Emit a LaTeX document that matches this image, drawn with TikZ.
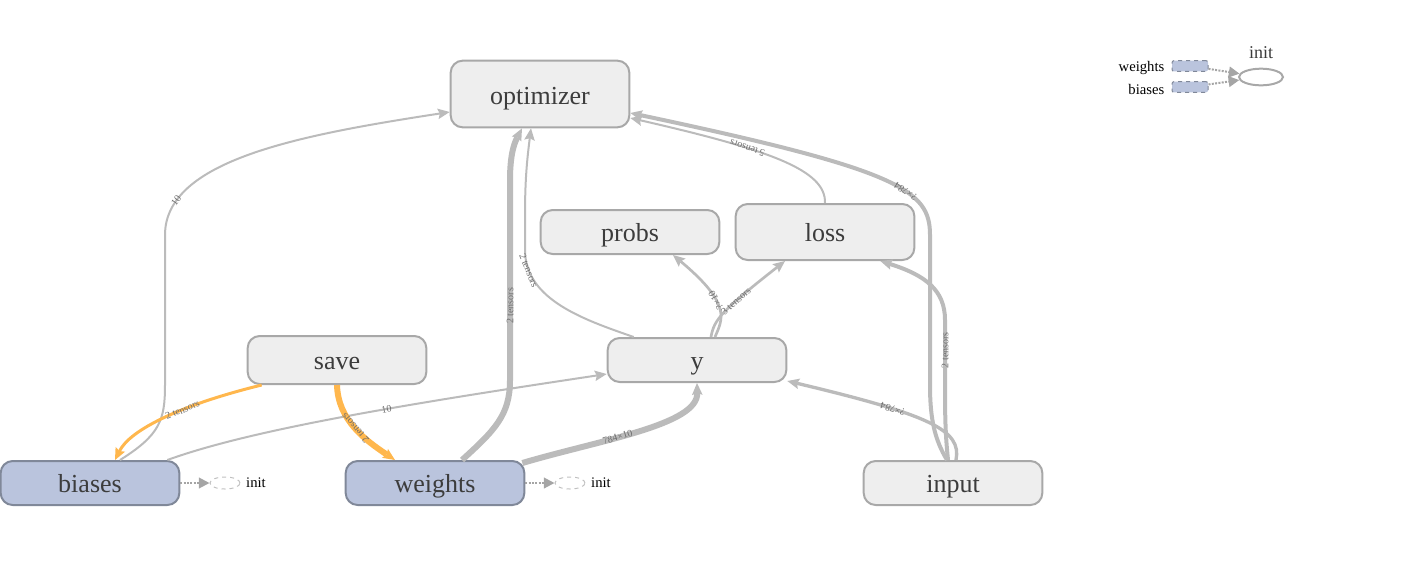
\documentclass[tikz,border=0pt]{standalone}
\usepackage{fontspec}
\setmainfont{Liberation Serif}
\usetikzlibrary{calc,arrows.meta,shapes.geometric}
\definecolor{OpFill}{RGB}{238,238,238}
\definecolor{OpLine}{RGB}{168,168,168}
\definecolor{VarFill}{RGB}{186,196,221}
\definecolor{VarLine}{RGB}{128,136,153}
\definecolor{Edge}{RGB}{187,187,187}
\definecolor{Ref}{RGB}{255,183,77}
\definecolor{Stub}{RGB}{165,165,165}
\definecolor{Label}{RGB}{60,60,60}

\begin{document}
\begin{tikzpicture}[x=0.75pt,y=-0.75pt,
  >={Stealth[length=9pt,width=8pt,inset=1.5pt,line width'=0pt]},
  op/.style={draw=OpLine,fill=OpFill,line width=1.5pt,rounded corners=9pt,
    minimum width=134pt,minimum height=33pt,text=Label,
    text height=13.5pt,text depth=0pt,
    font=\fontsize{19.5}{20}\selectfont},
  var/.style={op,draw=VarLine,fill=VarFill},
  edge/.style={draw=Edge,->},
  ref/.style={draw=Ref,<-},
  tag/.style={sloped,allow upside down,inner sep=1pt,text=Label!75,
    font=\fontsize{7.5}{8}\selectfont},
  stub/.style={ellipse,draw=Stub!70,dashed,line width=0.75pt,
    minimum width=22.5pt,minimum height=9pt,inner sep=0pt},
  stubedge/.style={draw=Stub,densely dotted,line width=1.5pt,
    -{Triangle[length=8pt,width=8pt]}},
  stubtext/.style={font=\fontsize{11}{12}\selectfont},
  legvar/.style={draw=VarLine,fill=VarFill,dashed,line width=0.75pt,
    rounded corners=1.5pt,minimum width=27pt,minimum height=8pt,inner sep=0pt}]
\useasboundingbox (0,0) rectangle (1402,583);

% operations
\node[op, minimum height=50pt, text height=15pt] (optimizer) at (540,94) {optimizer};
\node[op] (probs) at (630,232) {probs};
\node[op, minimum height=42pt] (loss) at (825,232) {loss};
\node[op, minimum height=36pt] (save) at (337,360) {save};
\node[op] (y) at (697,360) {y};
\node[op] (input) at (953,483) {input};

% variables
\node[var] (biases) at (90,483) {biases};
\node[var] (weights) at (435,483) {weights};

% init stubs
\node[stub] (biasesinit) at (225,483) {};
\node[stubtext] (biasesinittext) at (256,483) {init};
\draw[stubedge] (biases) -- (biasesinit);
\node[stub] (weightsinit) at (570,483) {};
\node[stubtext] (weightsinittext) at (601,483) {init};
\draw[stubedge] (weights) -- (weightsinit);

% edges into optimizer
\draw[edge, line width=1.5pt] ($(biases.north)+(30,0)$) .. controls (160,435) and (165,420) .. (165,385)
  -- (165,235) .. controls (165,160) and (300,135) .. node[tag, pos=0.17] {10} ($(optimizer.west)+(0,18)$);
\draw[edge, line width=4.5pt] ($(weights.north)+(27,0)$) .. controls (495,430) and (510,415) .. (510,380)
  -- node[tag, pos=0.37] {2 tensors} (510,180) .. controls (510,150) and (516,140) .. ($(optimizer.south)+(-18,0)$);
\draw[edge, <-, line width=1.5pt] ($(optimizer.south)+(-9,0)$) .. controls (527,160) and (525,180) .. (525,215)
  -- (525,250) .. controls (525,300) and (585,320) .. node[tag, pos=0.15] {2 tensors} ($(y.north west)+(27,0)$);
\draw[edge, line width=1.5pt] (loss.north) .. controls (826,170) and (770,150) .. node[tag, pos=0.65] {5 tensors} ($(optimizer.east)+(0,24)$);
\draw[edge, line width=3pt] ($(input.north)+(-6,0)$) .. controls (935,440) and (930,420) .. (930,385)
  -- (930,235) .. controls (930,190) and (900,170) .. node[tag, pos=0.38] {?×784} ($(optimizer.east)+(0,19)$);

% edges into loss, probs and y
\draw[edge, line width=3pt] ($(input.north)+(-5,0)$) .. controls (946,440) and (945,425) .. (945,390)
  -- node[tag, pos=0.57] {2 tensors} (945,320) .. controls (945,290) and (925,275) .. ($(loss.south east)+(-35,0)$);
\draw[edge, line width=2.5pt] ($(input.north)+(3,0)$) .. controls (962,430) and (930,415) .. node[tag, pos=0.68] {?×784} ($(y.east)+(0,21)$);
\draw[edge, line width=2pt] ($(y.north)+(18,0)$) .. controls (722,320) and (733,305) .. node[tag, pos=0.6] {?×10} ($(probs.south)+(43,0)$);
\draw[edge, line width=2pt] ($(y.north)+(14,0)$) .. controls (714,320) and (720,312) .. node[tag, pos=0.65] {3 tensors} ($(loss.south)+(-40,0)$);
\draw[edge, line width=4.5pt] ($(weights.north east)+(-3,3)$) .. controls (600,440) and (698,425) .. node[tag, pos=0.4] {784×10} (y.south);
\draw[edge, line width=1.5pt] ($(biases.north east)+(-13,0)$) .. controls (250,430) and (400,405) .. node[tag, pos=0.6] {10} ($(y.west)+(0,14)$);

% reference edges from save
\draw[ref, line width=2.25pt] ($(biases.north)+(25,0)$) .. controls (130,430) and (180,405) .. node[tag, pos=0.62] {2 tensors} ($(save.south west)+(15,0)$);
\draw[ref, line width=4.5pt] ($(weights.north)+(-40,0)$) .. controls (365,440) and (338,420) .. node[tag, pos=0.5] {2 tensors} (save.south);

% legend
\node[legvar] (legweights) at (1190,66) {};
\node[legvar] (legbiases) at (1190,87) {};
\node[stubtext, anchor=east] (legweightstext) at (1169,68) {weights};
\node[stubtext, anchor=east] (legbiasestext) at (1169,89) {biases};
\node[ellipse, draw=OpLine, line width=1.5pt, minimum width=33pt, minimum height=12.5pt, inner sep=0pt] (leginit) at (1261,77) {};
\node[text=Label, font=\fontsize{13.5}{14}\selectfont] (leginittext) at (1261,53) {init};
\draw[stubedge] (legweights) -- (leginit);
\draw[stubedge] (legbiases) -- (leginit);
\end{tikzpicture}
\end{document}
